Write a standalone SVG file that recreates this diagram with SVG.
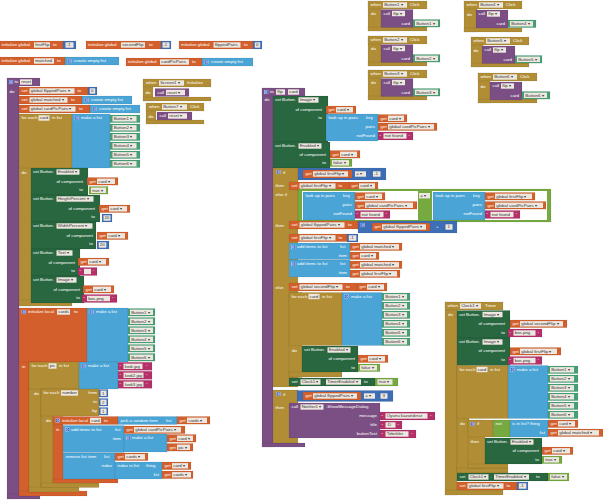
<svg xmlns="http://www.w3.org/2000/svg" xmlns:xlink="http://www.w3.org/1999/xlink" width="603" height="500" viewBox="0 0 603 500">
<style>
text{font-family:"Liberation Sans",Arial,sans-serif;font-size:4.4px;fill:#fff}
text.k{fill:#333}
text.e{text-anchor:end}
rect{stroke:#000;stroke-opacity:.18;stroke-width:.35}
rect.f{fill:#ede7e0;stroke:none}
.o{fill:#d3602c}.p{fill:#7b4f83}.g{fill:#b18e35}.d{fill:#28673f}.t{fill:#46a074}.b{fill:#4aa5d6}.n{fill:#3e6fb6}.l{fill:#76aa40}.m{fill:#b52f69}
rect.w{fill:#fff;stroke:none}
</style>
<defs>
<symbol id="gr" viewBox="0 0 10 10"><rect x="0.5" y="0.5" width="9" height="9" style="fill:#3a5bc7;stroke:#fff;stroke-width:1;stroke-opacity:1"/><circle cx="5" cy="5" r="2" fill="none" stroke="#fff" stroke-width="1.2"/></symbol>
</defs>
<rect x="0" y="0" width="603" height="500" fill="#fff" style="stroke:none"/>
<g id="connectors"/>

<g id="g-firstFlip">
<rect class="o" x="0" y="41" width="63" height="8"/><text x="1.5" y="46.4">initialize global</text>
<rect class="f" x="34" y="42.3" width="16" height="5.4"/><text class="k" x="35.2" y="46.4">firstFlip</text><text x="53" y="46.4">to</text>
<rect class="n" x="63" y="41" width="13" height="8"/><rect class="f" x="65.5" y="42.3" width="8" height="5.4"/><text class="k" x="66.5" y="46.4">-1</text>
</g>
<g id="g-secondFlip">
<rect class="o" x="86" y="41" width="75" height="8"/><text x="88" y="46.4">initialize global</text>
<rect class="f" x="121" y="42.3" width="24" height="5.4"/><text class="k" x="122.2" y="46.4">secondFlip</text><text x="149" y="46.4">to</text>
<rect class="n" x="161" y="41" width="10" height="8"/><rect class="f" x="162.5" y="42.3" width="7" height="5.4"/><text class="k" x="163.2" y="46.4">-1</text>
</g>
<g id="g-flippedPairs">
<rect class="o" x="179" y="41" width="74" height="8"/><text x="181" y="46.4">initialize global</text>
<rect class="f" x="213.5" y="42.3" width="27" height="5.4"/><text class="k" x="214.7" y="46.4">flippedPairs</text><text x="244" y="46.4">to</text>
<rect class="n" x="253" y="41" width="9" height="8"/><rect class="f" x="254.8" y="42.3" width="5.4" height="5.4"/><text class="k" x="256" y="46.4">0</text>
</g>
<g id="g-matched">
<rect class="o" x="0" y="57" width="65" height="8"/><text x="1.5" y="62.4">initialize global</text>
<rect class="f" x="34" y="58.3" width="20" height="5.4"/><text class="k" x="35.2" y="62.4">matched</text><text x="57" y="62.4">to</text>
<rect class="b" x="65" y="57" width="54" height="8"/><use href="#gr" x="67.5" y="58.8" width="4.4" height="4.4"/><text x="74" y="62.4">create empty list</text>
</g>
<g id="g-cardPicPairs">
<rect class="o" x="126" y="58" width="76" height="8"/><text x="128" y="63.4">initialize global</text>
<rect class="f" x="160" y="59.3" width="29" height="5.4"/><text class="k" x="161.2" y="63.4">cardPicPairs</text><text x="192" y="63.4">to</text>
<rect class="b" x="202" y="58" width="51" height="8"/><use href="#gr" x="204.5" y="59.8" width="4.4" height="4.4"/><text x="211" y="63.4">create empty list</text>
</g>

<g id="proc-reset">
<rect class="p" x="7" y="78" width="12" height="421"/><rect class="p" x="7" y="78" width="33" height="8"/><rect class="p" x="7" y="494" width="33" height="5"/>
<use href="#gr" x="8.8" y="79.8" width="4.4" height="4.4"/><text x="14.5" y="83.4">to</text>
<rect class="f" x="20" y="79.3" width="12" height="5.4"/><text class="k" x="21.2" y="83.4">reset</text>
<text x="9.5" y="92.5">do</text>
<rect class="o" x="19" y="87" width="69" height="8"/><text x="21.5" y="92.4">set</text>
<rect class="f" x="29.5" y="88.3" width="45" height="5.4"/><text class="k" x="30.7" y="92.4">global flippedPairs ▾</text><text x="77.5" y="92.4">to</text>
<rect class="n" x="88" y="87" width="9" height="8"/><rect class="f" x="89.8" y="88.3" width="5.4" height="5.4"/><text class="k" x="91" y="92.4">0</text>
<rect class="o" x="19" y="96" width="63" height="8"/><text x="21.5" y="101.4">set</text>
<rect class="f" x="29.5" y="97.3" width="38" height="5.4"/><text class="k" x="30.7" y="101.4">global matched ▾</text><text x="71" y="101.4">to</text>
<rect class="b" x="82" y="96" width="50" height="8"/><use href="#gr" x="84.5" y="97.8" width="4.4" height="4.4"/><text x="91" y="101.4">create empty list</text>
<rect class="o" x="19" y="105" width="71" height="8"/><text x="21.5" y="110.4">set</text>
<rect class="f" x="29.5" y="106.3" width="46" height="5.4"/><text class="k" x="30.7" y="110.4">global cardPicPairs ▾</text><text x="79" y="110.4">to</text>
<rect class="b" x="90" y="105" width="50" height="8"/><use href="#gr" x="92.5" y="106.8" width="4.4" height="4.4"/><text x="99" y="110.4">create empty list</text>
<!-- for each card -->
<rect class="g" x="19" y="114" width="12" height="192"/><rect class="g" x="19" y="114" width="53" height="54"/><rect class="g" x="19" y="300" width="53" height="6"/>
<text x="21.5" y="119.4">for each</text><rect class="f" x="38.5" y="115.3" width="11" height="5.4"/><text class="k" x="39.7" y="119.4">card</text><text x="52" y="119.4">in list</text>
<rect class="b" x="72" y="114" width="38" height="54"/><use href="#gr" x="74.5" y="115.8" width="4.4" height="4.4"/><text x="81" y="119.4">make a list</text>
<rect class="t" x="110" y="115" width="30" height="7.6"/><rect class="f" x="112.5" y="116.1" width="24" height="5.4"/><text class="k" x="113.7" y="120.2">Button1 ▾</text>
<rect class="t" x="110" y="124" width="30" height="7.6"/><rect class="f" x="112.5" y="125.1" width="24" height="5.4"/><text class="k" x="113.7" y="129.2">Button2 ▾</text>
<rect class="t" x="110" y="133" width="30" height="7.6"/><rect class="f" x="112.5" y="134.1" width="24" height="5.4"/><text class="k" x="113.7" y="138.2">Button3 ▾</text>
<rect class="t" x="110" y="142" width="30" height="7.6"/><rect class="f" x="112.5" y="143.1" width="24" height="5.4"/><text class="k" x="113.7" y="147.2">Button4 ▾</text>
<rect class="t" x="110" y="151" width="30" height="7.6"/><rect class="f" x="112.5" y="152.1" width="24" height="5.4"/><text class="k" x="113.7" y="156.2">Button5 ▾</text>
<rect class="t" x="110" y="160" width="30" height="7.6"/><rect class="f" x="112.5" y="161.1" width="24" height="5.4"/><text class="k" x="113.7" y="165.2">Button6 ▾</text>
<text x="21.5" y="173.5">do</text>
<!-- Enabled -->
<rect class="d" x="31" y="168" width="57" height="27"/><text x="33" y="173.4">set Button.</text>
<rect class="f" x="56.5" y="169.3" width="23" height="5.4"/><text class="k" x="57.7" y="173.4">Enabled ▾</text>
<text class="e" x="83" y="182.6">of component</text><text class="e" x="83" y="191.4">to</text>
<rect class="o" x="87" y="177.5" width="31" height="7.6"/><text x="89.5" y="182.7">get</text><rect class="f" x="97" y="178.6" width="18" height="5.4"/><text class="k" x="98.2" y="182.7">card ▾</text>
<rect class="l" x="89" y="186.5" width="19" height="7.6"/><rect class="f" x="91" y="187.6" width="15" height="5.4"/><text class="k" x="92.2" y="191.7">true ▾</text>
<!-- HeightPercent -->
<rect class="d" x="31" y="195" width="69" height="27"/><text x="33" y="200.4">set Button.</text>
<rect class="f" x="56.5" y="196.3" width="37" height="5.4"/><text class="k" x="57.7" y="200.4">HeightPercent ▾</text>
<text class="e" x="95" y="209.6">of component</text><text class="e" x="95" y="218.4">to</text>
<rect class="o" x="99" y="205" width="31" height="7.6"/><text x="101.5" y="210.2">get</text><rect class="f" x="109" y="206.1" width="18" height="5.4"/><text class="k" x="110.2" y="210.2">card ▾</text>
<rect class="n" x="102" y="214" width="10" height="8"/><rect class="f" x="103.5" y="215.3" width="7" height="5.4"/><text class="k" x="104.4" y="219.4">20</text>
<!-- WidthPercent -->
<rect class="d" x="31" y="222" width="65" height="27"/><text x="33" y="227.4">set Button.</text>
<rect class="f" x="56.5" y="223.3" width="36" height="5.4"/><text class="k" x="57.7" y="227.4">WidthPercent ▾</text>
<text class="e" x="93" y="236.6">of component</text><text class="e" x="93" y="245.4">to</text>
<rect class="o" x="97" y="232" width="31" height="7.6"/><text x="99.5" y="237.2">get</text><rect class="f" x="107" y="233.1" width="18" height="5.4"/><text class="k" x="108.2" y="237.2">card ▾</text>
<rect class="n" x="97" y="241" width="12" height="8"/><rect class="f" x="98.8" y="242.3" width="7.5" height="5.4"/><text class="k" x="99.8" y="246.4">20</text>
<!-- Text -->
<rect class="d" x="31" y="249" width="49" height="27"/><text x="33" y="254.4">set Button.</text>
<rect class="f" x="56.5" y="250.3" width="16" height="5.4"/><text class="k" x="57.7" y="254.4">Text ▾</text>
<text class="e" x="75" y="263.6">of component</text><text class="e" x="75" y="272.4">to</text>
<rect class="o" x="78" y="258" width="31" height="7.6"/><text x="80.5" y="263.2">get</text><rect class="f" x="88" y="259.1" width="18" height="5.4"/><text class="k" x="89.2" y="263.2">card ▾</text>
<rect class="m" x="78" y="267.5" width="19" height="8"/><text x="79.5" y="273">“</text><rect class="f" x="84" y="268.8" width="7" height="5.4"/><text x="92.5" y="273">”</text>
<!-- Image -->
<rect class="d" x="31" y="276" width="53" height="27"/><text x="33" y="281.4">set Button.</text>
<rect class="f" x="56.5" y="277.3" width="20" height="5.4"/><text class="k" x="57.7" y="281.4">Image ▾</text>
<text class="e" x="80" y="290.6">of component</text><text class="e" x="80" y="299.4">to</text>
<rect class="o" x="83" y="285.5" width="31" height="7.6"/><text x="85.5" y="290.7">get</text><rect class="f" x="93" y="286.6" width="18" height="5.4"/><text class="k" x="94.2" y="290.7">card ▾</text>
<rect class="m" x="82" y="294.5" width="35" height="8"/><text x="83.5" y="300">“</text><rect class="f" x="87" y="295.8" width="23" height="5.4"/><text class="k" x="88.2" y="299.9">bos.png</text><text x="112" y="300">”</text>
<!-- initialize local cards -->
<rect class="o" x="19" y="308" width="10" height="188"/><rect class="o" x="19" y="308" width="68" height="54"/><rect class="o" x="19" y="491" width="68" height="5"/>
<use href="#gr" x="21.5" y="309.8" width="4.4" height="4.4"/><text x="28" y="313.4">initialize local</text>
<rect class="f" x="57" y="309.3" width="13" height="5.4"/><text class="k" x="58.2" y="313.4">cards</text><text x="74" y="313.4">to</text>
<rect class="b" x="87" y="308" width="41" height="54"/><use href="#gr" x="89.5" y="309.8" width="4.4" height="4.4"/><text x="96" y="313.4">make a list</text>
<rect class="t" x="128" y="308.5" width="27" height="7.6"/><rect class="f" x="130" y="309.6" width="23" height="5.4"/><text class="k" x="131.2" y="313.7">Button1 ▾</text>
<rect class="t" x="128" y="317.5" width="27" height="7.6"/><rect class="f" x="130" y="318.6" width="23" height="5.4"/><text class="k" x="131.2" y="322.7">Button2 ▾</text>
<rect class="t" x="128" y="326.5" width="27" height="7.6"/><rect class="f" x="130" y="327.6" width="23" height="5.4"/><text class="k" x="131.2" y="331.7">Button3 ▾</text>
<rect class="t" x="128" y="335.5" width="27" height="7.6"/><rect class="f" x="130" y="336.6" width="23" height="5.4"/><text class="k" x="131.2" y="340.7">Button4 ▾</text>
<rect class="t" x="128" y="344.5" width="27" height="7.6"/><rect class="f" x="130" y="345.6" width="23" height="5.4"/><text class="k" x="131.2" y="349.7">Button5 ▾</text>
<rect class="t" x="128" y="353.5" width="27" height="7.6"/><rect class="f" x="130" y="354.6" width="23" height="5.4"/><text class="k" x="131.2" y="358.7">Button6 ▾</text>
<text x="22" y="367.5">in</text>
<!-- for each pic -->
<rect class="g" x="29" y="362" width="12" height="130"/><rect class="g" x="29" y="362" width="50" height="27"/><rect class="g" x="29" y="487" width="50" height="5"/>
<text x="31.5" y="367.4">for each</text><rect class="f" x="48.5" y="363.3" width="8" height="5.4"/><text class="k" x="49.7" y="367.4">pic</text><text x="59" y="367.4">in list</text>
<rect class="b" x="79" y="362" width="39" height="27"/><use href="#gr" x="81.5" y="363.8" width="4.4" height="4.4"/><text x="88" y="367.4">make a list</text>
<rect class="m" x="118" y="362.3" width="34" height="8"/><text x="119.5" y="367.8">“</text><rect class="f" x="123.5" y="363.6" width="19" height="5.4"/><text class="k" x="124.7" y="367.7">kedi.jpg</text><text x="146" y="367.8">”</text>
<rect class="m" x="118" y="371.3" width="34" height="8"/><text x="119.5" y="376.8">“</text><rect class="f" x="123.5" y="372.6" width="20" height="5.4"/><text class="k" x="124.7" y="376.7">kedi2.jpg</text><text x="146" y="376.8">”</text>
<rect class="m" x="118" y="380.3" width="34" height="8"/><text x="119.5" y="385.8">“</text><rect class="f" x="123.5" y="381.6" width="20" height="5.4"/><text class="k" x="124.7" y="385.7">kedi3.jpg</text><text x="146" y="385.8">”</text>
<text x="34" y="394.5">do</text>
<!-- for each number -->
<rect class="g" x="41" y="389" width="12" height="98"/><rect class="g" x="41" y="389" width="58" height="27"/><rect class="g" x="41" y="483" width="58" height="4.5"/>
<text x="43.5" y="394.4">for each</text><rect class="f" x="61" y="390.3" width="17" height="5.4"/><text class="k" x="62.2" y="394.4">number</text>
<text class="e" x="97" y="394.4">from</text><text class="e" x="97" y="403.4">to</text><text class="e" x="97" y="412.4">by</text>
<rect class="n" x="99" y="389.5" width="9" height="7.6"/><rect class="f" x="100.5" y="390.6" width="6" height="5.4"/><text class="k" x="102" y="394.7">1</text>
<rect class="n" x="99" y="398.5" width="9" height="7.6"/><rect class="f" x="100.5" y="399.6" width="6" height="5.4"/><text class="k" x="102" y="403.7">2</text>
<rect class="n" x="99" y="407.5" width="9" height="7.6"/><rect class="f" x="100.5" y="408.6" width="6" height="5.4"/><text class="k" x="102" y="412.7">1</text>
<text x="46" y="421.5">do</text>
<!-- initialize local card -->
<rect class="o" x="53" y="416.5" width="10" height="66"/><rect class="o" x="53" y="416.5" width="65" height="8"/><rect class="o" x="53" y="479" width="65" height="4"/>
<use href="#gr" x="55.5" y="418.3" width="4.4" height="4.4"/><text x="62" y="421.9">initialize local</text>
<rect class="f" x="90" y="417.8" width="11" height="5.4"/><text class="k" x="91.2" y="421.9">card</text><text x="104" y="421.9">to</text>
<rect class="b" x="118" y="416.5" width="59" height="8"/><text x="120.5" y="421.9">pick a random item</text><text x="166" y="421.9">list</text>
<rect class="o" x="177" y="416.5" width="33" height="7.6"/><text x="179.5" y="421.7">get</text><rect class="f" x="187" y="417.6" width="20" height="5.4"/><text class="k" x="188.2" y="421.7">cards ▾</text>
<text x="56" y="430.5">in</text>
<rect class="b" x="63" y="425.5" width="61" height="27"/><use href="#gr" x="65" y="427.3" width="4.4" height="4.4"/><text x="71" y="431">add items to list</text><text x="115" y="431">list</text><text class="e" x="121" y="440">item</text>
<rect class="o" x="124" y="426" width="61" height="7.6"/><text x="126.5" y="431.2">get</text><rect class="f" x="134" y="427.1" width="47" height="5.4"/><text class="k" x="135.2" y="431.2">global cardPicPairs ▾</text>
<rect class="b" x="124" y="434" width="43" height="18"/><use href="#gr" x="126" y="435.8" width="4.4" height="4.4"/><text x="132" y="439.4">make a list</text>
<rect class="o" x="167" y="434.5" width="29" height="7.6"/><text x="169.5" y="439.7">get</text><rect class="f" x="177" y="435.6" width="16" height="5.4"/><text class="k" x="178.2" y="439.7">card ▾</text>
<rect class="o" x="167" y="443.5" width="26" height="7.6"/><text x="169.5" y="448.7">get</text><rect class="f" x="177" y="444.6" width="13" height="5.4"/><text class="k" x="178.2" y="448.7">pic ▾</text>
<rect class="b" x="63" y="453" width="52" height="26"/><text x="65.5" y="458.4">remove list item</text><text x="104" y="458.4">list</text><text class="e" x="112" y="467.4">index</text>
<rect class="o" x="115" y="453" width="33" height="7.6"/><text x="117.5" y="458.2">get</text><rect class="f" x="125" y="454.1" width="20" height="5.4"/><text class="k" x="126.2" y="458.2">cards ▾</text>
<rect class="b" x="115" y="462" width="47" height="17"/><text x="117.5" y="467.4">index in list</text><text x="146" y="467.4">thing</text><text class="e" x="159" y="476.4">list</text>
<rect class="o" x="162" y="462" width="29" height="7.6"/><text x="164.5" y="467.2">get</text><rect class="f" x="172" y="463.1" width="16" height="5.4"/><text class="k" x="173.2" y="467.2">card ▾</text>
<rect class="o" x="162" y="471" width="31" height="7.6"/><text x="164.5" y="476.2">get</text><rect class="f" x="172" y="472.1" width="19" height="5.4"/><text class="k" x="173.2" y="476.2">cards ▾</text>
</g>

<g id="ev-screen1">
<rect class="g" x="143" y="79" width="10" height="22"/><rect class="g" x="143" y="79" width="68" height="8"/><rect class="g" x="143" y="97" width="68" height="4"/>
<text x="146" y="84.4">when</text><rect class="f" x="159" y="80.3" width="25" height="5.4"/><text class="k" x="160.2" y="84.4">Screen1 ▾</text><text x="187" y="84.4">Initialize</text>
<text x="145.5" y="94">do</text>
<rect class="p" x="155" y="88.5" width="34" height="8"/><text x="157.5" y="93.9">call</text><rect class="f" x="166" y="89.8" width="19" height="5.4"/><text class="k" x="167.2" y="93.9">reset ▾</text>
</g>
<g id="ev-button7">
<rect class="g" x="146" y="103" width="10" height="21"/><rect class="g" x="146" y="103" width="58" height="8"/><rect class="g" x="146" y="120" width="58" height="4"/>
<text x="149" y="108.4">when</text><rect class="f" x="162" y="104.3" width="25" height="5.4"/><text class="k" x="163.2" y="108.4">Button7 ▾</text><text x="190" y="108.4">Click</text>
<text x="148.5" y="118">do</text>
<rect class="p" x="157" y="112" width="35" height="8"/><text x="159.5" y="117.4">call</text><rect class="f" x="168" y="113.3" width="19" height="5.4"/><text class="k" x="169.2" y="117.4">reset ▾</text>
</g>

<g id="proc-flip">
<rect class="p" x="262" y="88" width="11" height="359"/><rect class="p" x="262" y="88" width="43" height="8"/><rect class="p" x="262" y="443" width="43" height="4"/>
<use href="#gr" x="264" y="89.8" width="4.4" height="4.4"/><text x="270" y="93.4">to</text>
<rect class="f" x="276" y="89.3" width="9" height="5.4"/><text class="k" x="277.2" y="93.4">flip</text>
<rect class="f" x="288" y="89.3" width="11" height="5.4"/><text class="k" x="289.2" y="93.4">card</text>
<text x="264.5" y="100.5">do</text>
<!-- set Image -->
<rect class="d" x="273" y="96" width="55" height="46"/><text x="275" y="101.4">set Button.</text>
<rect class="f" x="298.5" y="97.3" width="20" height="5.4"/><text class="k" x="299.7" y="101.4">Image ▾</text>
<text class="e" x="322" y="110.6">of component</text><text class="e" x="322" y="119.4">to</text>
<rect class="o" x="326" y="106" width="30" height="7.6"/><text x="328.5" y="111.2">get</text><rect class="f" x="336" y="107.1" width="17" height="5.4"/><text class="k" x="337.2" y="111.2">card ▾</text>
<rect class="b" x="326" y="114" width="52" height="27"/><text x="328.5" y="119.4">look up in pairs</text><text x="366" y="119.4">key</text>
<text class="e" x="375" y="128.4">pairs</text><text class="e" x="375" y="137.4">notFound</text>
<rect class="o" x="378" y="114.5" width="29" height="7.6"/><text x="380.5" y="119.7">get</text><rect class="f" x="388" y="115.6" width="16" height="5.4"/><text class="k" x="389.2" y="119.7">card ▾</text>
<rect class="o" x="378" y="123" width="59" height="7.6"/><text x="380.5" y="128.2">get</text><rect class="f" x="388" y="124.1" width="46" height="5.4"/><text class="k" x="389.2" y="128.2">global cardPicPairs ▾</text>
<rect class="m" x="378" y="132" width="35" height="8"/><text x="379.5" y="137.5">“</text><rect class="f" x="383.5" y="133.3" width="23" height="5.4"/><text class="k" x="384.7" y="137.4">not found</text><text x="408.5" y="137.5">”</text>
<!-- set Enabled -->
<rect class="d" x="273" y="142" width="57" height="26"/><text x="275" y="147.4">set Button.</text>
<rect class="f" x="298.5" y="143.3" width="23" height="5.4"/><text class="k" x="299.7" y="147.4">Enabled ▾</text>
<text class="e" x="326" y="155.6">of component</text><text class="e" x="326" y="164.4">to</text>
<rect class="o" x="330" y="150.5" width="30" height="7.6"/><text x="332.5" y="155.7">get</text><rect class="f" x="340" y="151.6" width="17" height="5.4"/><text class="k" x="341.2" y="155.7">card ▾</text>
<rect class="l" x="330" y="159" width="22" height="7.6"/><rect class="f" x="332" y="160.1" width="17" height="5.4"/><text class="k" x="333.2" y="164.2">false ▾</text>
<!-- if / else if / else -->
<rect class="g" x="273" y="168" width="25" height="219"/>
<use href="#gr" x="276.5" y="169.8" width="4.4" height="4.4"/><text x="283" y="174.4">if</text>
<rect class="n" x="298" y="168" width="88" height="12"/>
<rect class="o" x="303" y="170" width="49" height="8"/><text x="305.5" y="175.4">get</text><rect class="f" x="313" y="171.3" width="35" height="5.4"/><text class="k" x="314.2" y="175.4">global firstFlip ▾</text>
<rect class="f" x="355" y="171.3" width="11" height="5.4"/><text class="k" x="356.2" y="175.4">= ▾</text>
<rect class="n" x="371" y="170" width="12" height="8"/><rect class="f" x="373" y="171.3" width="7.5" height="5.4"/><text class="k" x="374" y="175.4">-1</text>
<text x="275.5" y="186.5">then</text>
<rect class="o" x="289" y="182" width="60" height="8"/><text x="291.5" y="187.4">set</text><rect class="f" x="299.5" y="183.3" width="36" height="5.4"/><text class="k" x="300.7" y="187.4">global firstFlip ▾</text><text x="338.5" y="187.4">to</text>
<rect class="o" x="349" y="182" width="29" height="8"/><text x="351.5" y="187.4">get</text><rect class="f" x="359" y="183.3" width="16" height="5.4"/><text class="k" x="360.2" y="187.4">card ▾</text>
<text x="275.5" y="196">else if</text>
<rect class="l" x="298" y="189" width="253" height="33"/>
<rect class="w" x="302" y="191" width="116" height="29"/><rect class="w" x="432" y="191" width="115" height="29"/>
<rect class="b" x="303" y="192" width="52" height="28"/><text x="305.5" y="197.4">look up in pairs</text><text x="343" y="197.4">key</text>
<text class="e" x="352" y="206.4">pairs</text><text class="e" x="352" y="215.4">notFound</text>
<rect class="o" x="355" y="192.5" width="30" height="7.6"/><text x="357.5" y="197.7">get</text><rect class="f" x="365" y="193.6" width="17" height="5.4"/><text class="k" x="366.2" y="197.7">card ▾</text>
<rect class="o" x="355" y="201.5" width="62" height="7.6"/><text x="357.5" y="206.7">get</text><rect class="f" x="365" y="202.6" width="48" height="5.4"/><text class="k" x="366.2" y="206.7">global cardPicPairs ▾</text>
<rect class="m" x="355" y="210.5" width="35" height="8"/><text x="356.5" y="216">“</text><rect class="f" x="360.5" y="211.8" width="23" height="5.4"/><text class="k" x="361.7" y="215.9">not found</text><text x="385.5" y="216">”</text>
<rect class="f" x="419" y="193" width="11" height="5.4"/><text class="k" x="420.2" y="197.1">= ▾</text>
<rect class="b" x="433" y="192" width="52" height="28"/><text x="435.5" y="197.4">look up in pairs</text><text x="473" y="197.4">key</text>
<text class="e" x="482" y="206.4">pairs</text><text class="e" x="482" y="215.4">notFound</text>
<rect class="o" x="485" y="192.5" width="50" height="7.6"/><text x="487.5" y="197.7">get</text><rect class="f" x="495" y="193.6" width="37" height="5.4"/><text class="k" x="496.2" y="197.7">global firstFlip ▾</text>
<rect class="o" x="485" y="201.5" width="61" height="7.6"/><text x="487.5" y="206.7">get</text><rect class="f" x="495" y="202.6" width="48" height="5.4"/><text class="k" x="496.2" y="206.7">global cardPicPairs ▾</text>
<rect class="m" x="485" y="210.5" width="35" height="8"/><text x="486.5" y="216">“</text><rect class="f" x="490.5" y="211.8" width="23" height="5.4"/><text class="k" x="491.7" y="215.9">not found</text><text x="515.5" y="216">”</text>
<text x="275.5" y="226.5">then</text>
<rect class="o" x="289" y="221" width="69" height="8"/><text x="291.5" y="226.4">set</text><rect class="f" x="299.5" y="222.3" width="45" height="5.4"/><text class="k" x="300.7" y="226.4">global flippedPairs ▾</text><text x="348" y="226.4">to</text>
<rect class="n" x="358" y="221" width="99" height="12"/><use href="#gr" x="360.5" y="222.8" width="4.4" height="4.4"/>
<rect class="o" x="372" y="223" width="58" height="8"/><text x="374.5" y="228.4">get</text><rect class="f" x="382" y="224.3" width="44" height="5.4"/><text class="k" x="383.2" y="228.4">global flippedPairs ▾</text>
<text x="436" y="228.4">+</text>
<rect class="n" x="444" y="223" width="10" height="8"/><rect class="f" x="445.5" y="224.3" width="7" height="5.4"/><text class="k" x="447.5" y="228.4">1</text>
<rect class="o" x="289" y="234" width="58" height="7.6"/><text x="291.5" y="239.2">set</text><rect class="f" x="299.5" y="235.1" width="36" height="5.4"/><text class="k" x="300.7" y="239.2">global firstFlip ▾</text><text x="338.5" y="239.2">to</text>
<rect class="n" x="347" y="234" width="11" height="8"/><rect class="f" x="348.8" y="235.3" width="7.5" height="5.4"/><text class="k" x="349.8" y="239.4">-1</text>
<rect class="b" x="289" y="243" width="61" height="16.5"/><use href="#gr" x="291" y="244.8" width="4.4" height="4.4"/><text x="297" y="248.4">add items to list</text><text x="340" y="248.4">list</text><text class="e" x="347" y="257.2">item</text>
<rect class="o" x="350" y="243" width="52" height="7.6"/><text x="352.5" y="248.2">get</text><rect class="f" x="360" y="244.1" width="39" height="5.4"/><text class="k" x="361.2" y="248.2">global matched ▾</text>
<rect class="o" x="350" y="252" width="29" height="7.6"/><text x="352.5" y="257.2">get</text><rect class="f" x="360" y="253.1" width="16" height="5.4"/><text class="k" x="361.2" y="257.2">card ▾</text>
<rect class="b" x="289" y="260" width="61" height="17"/><use href="#gr" x="291" y="261.8" width="4.4" height="4.4"/><text x="297" y="265.4">add items to list</text><text x="340" y="265.4">list</text><text class="e" x="347" y="274.2">item</text>
<rect class="o" x="350" y="261" width="52" height="7.6"/><text x="352.5" y="266.2">get</text><rect class="f" x="360" y="262.1" width="39" height="5.4"/><text class="k" x="361.2" y="266.2">global matched ▾</text>
<rect class="o" x="350" y="270" width="50" height="7.6"/><text x="352.5" y="275.2">get</text><rect class="f" x="360" y="271.1" width="37" height="5.4"/><text class="k" x="361.2" y="275.2">global firstFlip ▾</text>
<text x="275.5" y="288.5">else</text>
<rect class="o" x="289" y="283" width="68" height="8"/><text x="291.5" y="288.4">set</text><rect class="f" x="299.5" y="284.3" width="43" height="5.4"/><text class="k" x="300.7" y="288.4">global secondFlip ▾</text><text x="346" y="288.4">to</text>
<rect class="o" x="357" y="283" width="30" height="8"/><text x="359.5" y="288.4">get</text><rect class="f" x="367" y="284.3" width="17" height="5.4"/><text class="k" x="368.2" y="288.4">card ▾</text>
<rect class="g" x="289" y="292.5" width="13" height="85"/><rect class="g" x="289" y="292.5" width="53" height="53"/><rect class="g" x="289" y="372" width="53" height="5"/>
<text x="291.5" y="298">for each</text><rect class="f" x="308.5" y="293.8" width="11" height="5.4"/><text class="k" x="309.7" y="297.9">card</text><text x="322" y="298">in list</text>
<rect class="b" x="342" y="292.5" width="40" height="53"/><use href="#gr" x="344.5" y="294.3" width="4.4" height="4.4"/><text x="351" y="298">make a list</text>
<rect class="t" x="382" y="293" width="28" height="7.6"/><rect class="f" x="384" y="294.1" width="23" height="5.4"/><text class="k" x="385.2" y="298.2">Button1 ▾</text>
<rect class="t" x="382" y="302" width="28" height="7.6"/><rect class="f" x="384" y="303.1" width="23" height="5.4"/><text class="k" x="385.2" y="307.2">Button2 ▾</text>
<rect class="t" x="382" y="311" width="28" height="7.6"/><rect class="f" x="384" y="312.1" width="23" height="5.4"/><text class="k" x="385.2" y="316.2">Button3 ▾</text>
<rect class="t" x="382" y="320" width="28" height="7.6"/><rect class="f" x="384" y="321.1" width="23" height="5.4"/><text class="k" x="385.2" y="325.2">Button4 ▾</text>
<rect class="t" x="382" y="329" width="28" height="7.6"/><rect class="f" x="384" y="330.1" width="23" height="5.4"/><text class="k" x="385.2" y="334.2">Button5 ▾</text>
<rect class="t" x="382" y="338" width="28" height="7.6"/><rect class="f" x="384" y="339.1" width="23" height="5.4"/><text class="k" x="385.2" y="343.2">Button6 ▾</text>
<text x="292" y="351.5">do</text>
<rect class="d" x="302" y="346" width="56" height="26"/><text x="304" y="351.4">set Button.</text>
<rect class="f" x="327.5" y="347.3" width="23" height="5.4"/><text class="k" x="328.7" y="351.4">Enabled ▾</text>
<text class="e" x="355" y="360">of component</text><text class="e" x="355" y="368.8">to</text>
<rect class="o" x="358" y="355" width="30" height="7.6"/><text x="360.5" y="360.2">get</text><rect class="f" x="368" y="356.1" width="17" height="5.4"/><text class="k" x="369.2" y="360.2">card ▾</text>
<rect class="l" x="358" y="364" width="22" height="7.6"/><rect class="f" x="360" y="365.1" width="17" height="5.4"/><text class="k" x="361.2" y="369.2">false ▾</text>
<rect class="d" x="289" y="378" width="86" height="8"/><text x="291.5" y="383.4">set</text>
<rect class="f" x="300.5" y="379.3" width="20" height="5.4"/><text class="k" x="301.7" y="383.4">Clock1 ▾</text><text x="322.5" y="383.4">.</text>
<rect class="f" x="326" y="379.3" width="35" height="5.4"/><text class="k" x="327.2" y="383.4">TimerEnabled ▾</text><text x="364" y="383.4">to</text>
<rect class="l" x="375" y="378" width="23" height="8"/><rect class="f" x="377.5" y="379.3" width="15" height="5.4"/><text class="k" x="378.7" y="383.4">true ▾</text>
<!-- second if -->
<rect class="g" x="273" y="390" width="25" height="53"/>
<use href="#gr" x="276.5" y="391.8" width="4.4" height="4.4"/><text x="283" y="396.4">if</text>
<rect class="n" x="297" y="390.5" width="96" height="11"/>
<rect class="o" x="303" y="392" width="58" height="8"/><text x="305.5" y="397.4">get</text><rect class="f" x="313" y="393.3" width="44" height="5.4"/><text class="k" x="314.2" y="397.4">global flippedPairs ▾</text>
<rect class="f" x="364" y="393.3" width="11" height="5.4"/><text class="k" x="365.2" y="397.4">= ▾</text>
<rect class="n" x="379" y="392" width="10" height="8"/><rect class="f" x="380.5" y="393.3" width="7" height="5.4"/><text class="k" x="382.5" y="397.4">3</text>
<text x="275.5" y="409">then</text>
<rect class="p" x="289" y="403" width="91" height="35"/><text x="291.5" y="408.4">call</text>
<rect class="f" x="300.5" y="404.3" width="23" height="5.4"/><text class="k" x="301.7" y="408.4">Notifier1 ▾</text><text x="326" y="408.4">.ShowMessageDialog</text>
<text class="e" x="377" y="417.4">message</text><text class="e" x="377" y="426.4">title</text><text class="e" x="377" y="435.4">buttonText</text>
<rect class="m" x="380" y="412" width="55" height="8"/><text x="381.5" y="417.5">“</text><rect class="f" x="385.5" y="413.3" width="42" height="5.4"/><text class="k" x="386.7" y="417.4">Oyunu kazandınız</text><text x="430" y="417.5">”</text>
<rect class="m" x="380" y="421" width="22" height="8"/><text x="381.5" y="426.5">“</text><rect class="f" x="385.5" y="422.3" width="10" height="5.4"/><text class="k" x="386.7" y="426.4">:D</text><text x="397.5" y="426.5">”</text>
<rect class="m" x="380" y="430" width="36" height="8"/><text x="381.5" y="435.5">“</text><rect class="f" x="385.5" y="431.3" width="23" height="5.4"/><text class="k" x="386.7" y="435.4">Tebrikler</text><text x="411" y="435.5">”</text>
</g>

<g id="ev-button1">
<rect class="g" x="368" y="1" width="13" height="30"/><rect class="g" x="368" y="1" width="59" height="8"/><rect class="g" x="368" y="27" width="59" height="4"/>
<text x="370.5" y="6.4">when</text><rect class="f" x="383" y="2.3" width="24" height="5.4"/><text class="k" x="384.2" y="6.4">Button1 ▾</text><text x="410" y="6.4">Click</text>
<text x="371" y="15">do</text>
<rect class="p" x="381" y="9.5" width="32" height="18"/><text x="383.5" y="14.9">call</text><rect class="f" x="392" y="10.8" width="13" height="5.4"/><text class="k" x="393.2" y="14.9">flip ▾</text><text class="e" x="410" y="24.5">card</text>
<rect class="t" x="413" y="19.5" width="27" height="7.6"/><rect class="f" x="415" y="20.6" width="23" height="5.4"/><text class="k" x="416.2" y="24.7">Button1 ▾</text>
</g>
<g id="ev-button2">
<rect class="g" x="368" y="36" width="13" height="30"/><rect class="g" x="368" y="36" width="59" height="8"/><rect class="g" x="368" y="62" width="59" height="4"/>
<text x="370.5" y="41.4">when</text><rect class="f" x="383" y="37.3" width="24" height="5.4"/><text class="k" x="384.2" y="41.4">Button2 ▾</text><text x="410" y="41.4">Click</text>
<text x="371" y="50">do</text>
<rect class="p" x="381" y="44.5" width="32" height="18"/><text x="383.5" y="49.9">call</text><rect class="f" x="392" y="45.8" width="13" height="5.4"/><text class="k" x="393.2" y="49.9">flip ▾</text><text class="e" x="410" y="59.5">card</text>
<rect class="t" x="413" y="54.5" width="27" height="7.6"/><rect class="f" x="415" y="55.6" width="23" height="5.4"/><text class="k" x="416.2" y="59.7">Button2 ▾</text>
</g>
<g id="ev-button3">
<rect class="g" x="368" y="70" width="13" height="30"/><rect class="g" x="368" y="70" width="59" height="8"/><rect class="g" x="368" y="96" width="59" height="4"/>
<text x="370.5" y="75.4">when</text><rect class="f" x="383" y="71.3" width="24" height="5.4"/><text class="k" x="384.2" y="75.4">Button3 ▾</text><text x="410" y="75.4">Click</text>
<text x="371" y="84">do</text>
<rect class="p" x="381" y="78.5" width="32" height="18"/><text x="383.5" y="83.9">call</text><rect class="f" x="392" y="79.8" width="13" height="5.4"/><text class="k" x="393.2" y="83.9">flip ▾</text><text class="e" x="410" y="93.5">card</text>
<rect class="t" x="413" y="88.5" width="27" height="7.6"/><rect class="f" x="415" y="89.6" width="23" height="5.4"/><text class="k" x="416.2" y="93.7">Button3 ▾</text>
</g>
<g id="ev-button4">
<rect class="g" x="464" y="1" width="13" height="31"/><rect class="g" x="464" y="1" width="58" height="8"/><rect class="g" x="464" y="28" width="58" height="4"/>
<text x="466.5" y="6.4">when</text><rect class="f" x="479" y="2.3" width="24" height="5.4"/><text class="k" x="480.2" y="6.4">Button4 ▾</text><text x="506" y="6.4">Click</text>
<text x="467" y="15.5">do</text>
<rect class="p" x="476" y="10" width="32" height="18"/><text x="478.5" y="15.4">call</text><rect class="f" x="487" y="11.3" width="13" height="5.4"/><text class="k" x="488.2" y="15.4">flip ▾</text><text class="e" x="505" y="25">card</text>
<rect class="t" x="508" y="20" width="28" height="7.6"/><rect class="f" x="510" y="21.1" width="23" height="5.4"/><text class="k" x="511.2" y="25.2">Button4 ▾</text>
</g>
<g id="ev-button5">
<rect class="g" x="471" y="37" width="12" height="30"/><rect class="g" x="471" y="37" width="58" height="8"/><rect class="g" x="471" y="63" width="58" height="4"/>
<text x="473.5" y="42.4">when</text><rect class="f" x="486" y="38.3" width="24" height="5.4"/><text class="k" x="487.2" y="42.4">Button5 ▾</text><text x="513" y="42.4">Click</text>
<text x="473.5" y="51.5">do</text>
<rect class="p" x="482" y="46" width="33" height="17.5"/><text x="484.5" y="51.4">call</text><rect class="f" x="493" y="47.3" width="13" height="5.4"/><text class="k" x="494.2" y="51.4">flip ▾</text><text class="e" x="512" y="60.6">card</text>
<rect class="t" x="515" y="55.5" width="27" height="7.6"/><rect class="f" x="517" y="56.6" width="23" height="5.4"/><text class="k" x="518.2" y="60.7">Button5 ▾</text>
</g>
<g id="ev-button6">
<rect class="g" x="478" y="73" width="12" height="30"/><rect class="g" x="478" y="73" width="59" height="8"/><rect class="g" x="478" y="99" width="59" height="4"/>
<text x="480.5" y="78.4">when</text><rect class="f" x="493" y="74.3" width="24" height="5.4"/><text class="k" x="494.2" y="78.4">Button6 ▾</text><text x="520" y="78.4">Click</text>
<text x="480.5" y="87.5">do</text>
<rect class="p" x="490" y="82" width="32" height="18"/><text x="492.5" y="87.4">call</text><rect class="f" x="501" y="83.3" width="13" height="5.4"/><text class="k" x="502.2" y="87.4">flip ▾</text><text class="e" x="519" y="96.6">card</text>
<rect class="t" x="522" y="91.5" width="28" height="7.6"/><rect class="f" x="524" y="92.6" width="23" height="5.4"/><text class="k" x="525.2" y="96.7">Button6 ▾</text>
</g>

<g id="ev-clock1">
<rect class="g" x="445" y="302" width="12" height="193"/><rect class="g" x="445" y="302" width="58" height="8"/><rect class="g" x="445" y="490" width="58" height="5"/>
<text x="447.5" y="307.4">when</text><rect class="f" x="460" y="303.3" width="21" height="5.4"/><text class="k" x="461.2" y="307.4">Clock1 ▾</text><text x="485" y="307.4">Timer</text>
<text x="448" y="316">do</text>
<rect class="d" x="457" y="310.5" width="53" height="27.5"/><text x="459" y="316">set Button.</text>
<rect class="f" x="482.5" y="311.8" width="20" height="5.4"/><text class="k" x="483.7" y="315.9">Image ▾</text>
<text class="e" x="505" y="325.4">of component</text><text class="e" x="505" y="334">to</text>
<rect class="o" x="510" y="320" width="57" height="7.6"/><text x="512.5" y="325.2">get</text><rect class="f" x="520" y="321.1" width="43" height="5.4"/><text class="k" x="521.2" y="325.2">global secondFlip ▾</text>
<rect class="m" x="508" y="329" width="34" height="8"/><text x="509.5" y="334.5">“</text><rect class="f" x="513.5" y="330.3" width="22" height="5.4"/><text class="k" x="514.7" y="334.4">bos.png</text><text x="537.5" y="334.5">”</text>
<rect class="d" x="457" y="338" width="53" height="27.5"/><text x="459" y="343.4">set Button.</text>
<rect class="f" x="482.5" y="339.3" width="20" height="5.4"/><text class="k" x="483.7" y="343.4">Image ▾</text>
<text class="e" x="505" y="352.4">of component</text><text class="e" x="505" y="361.4">to</text>
<rect class="o" x="510" y="347.5" width="51" height="7.6"/><text x="512.5" y="352.7">get</text><rect class="f" x="520" y="348.6" width="37" height="5.4"/><text class="k" x="521.2" y="352.7">global firstFlip ▾</text>
<rect class="m" x="508" y="356.5" width="34" height="8"/><text x="509.5" y="362">“</text><rect class="f" x="513.5" y="357.8" width="22" height="5.4"/><text class="k" x="514.7" y="361.9">bos.png</text><text x="537.5" y="362">”</text>
<rect class="g" x="457" y="365.5" width="12" height="108"/><rect class="g" x="457" y="365.5" width="51" height="53"/><rect class="g" x="457" y="468" width="51" height="5"/>
<text x="459.5" y="371">for each</text><rect class="f" x="476.5" y="366.8" width="11" height="5.4"/><text class="k" x="477.7" y="370.9">card</text><text x="490" y="371">in list</text>
<rect class="b" x="508" y="365.5" width="40" height="53"/><use href="#gr" x="510.5" y="367.3" width="4.4" height="4.4"/><text x="517" y="371">make a list</text>
<rect class="t" x="548" y="366" width="30" height="7.6"/><rect class="f" x="550" y="367.1" width="24" height="5.4"/><text class="k" x="551.2" y="371.2">Button1 ▾</text>
<rect class="t" x="548" y="375" width="30" height="7.6"/><rect class="f" x="550" y="376.1" width="24" height="5.4"/><text class="k" x="551.2" y="380.2">Button2 ▾</text>
<rect class="t" x="548" y="384" width="30" height="7.6"/><rect class="f" x="550" y="385.1" width="24" height="5.4"/><text class="k" x="551.2" y="389.2">Button3 ▾</text>
<rect class="t" x="548" y="393" width="30" height="7.6"/><rect class="f" x="550" y="394.1" width="24" height="5.4"/><text class="k" x="551.2" y="398.2">Button4 ▾</text>
<rect class="t" x="548" y="402" width="30" height="7.6"/><rect class="f" x="550" y="403.1" width="24" height="5.4"/><text class="k" x="551.2" y="407.2">Button5 ▾</text>
<rect class="t" x="548" y="411" width="30" height="7.6"/><rect class="f" x="550" y="412.1" width="24" height="5.4"/><text class="k" x="551.2" y="416.2">Button6 ▾</text>
<text x="460" y="424.5">do</text>
<rect class="g" x="468" y="420" width="17" height="48"/><rect class="g" x="468" y="420" width="25" height="17"/><rect class="g" x="468" y="464" width="40" height="4"/>
<use href="#gr" x="470.5" y="421.8" width="4.4" height="4.4"/><text x="477" y="425.4">if</text><text x="470.5" y="443">then</text>
<rect class="l" x="493" y="420" width="17" height="17"/><text x="495.5" y="425.4">not</text>
<rect class="b" x="510" y="420" width="38" height="17"/><text x="512" y="425.4">is in list? thing</text><text class="e" x="545" y="434.4">list</text>
<rect class="o" x="548" y="420" width="30" height="7.6"/><text x="550.5" y="425.2">get</text><rect class="f" x="558" y="421.1" width="17" height="5.4"/><text class="k" x="559.2" y="425.2">card ▾</text>
<rect class="o" x="548" y="429" width="55" height="7.6"/><text x="550.5" y="434.2">get</text><rect class="f" x="558" y="430.1" width="41" height="5.4"/><text class="k" x="559.2" y="434.2">global matched ▾</text>
<rect class="d" x="485" y="438" width="57" height="26"/><text x="487" y="443.4">set Button.</text>
<rect class="f" x="510.5" y="439.3" width="23" height="5.4"/><text class="k" x="511.7" y="443.4">Enabled ▾</text>
<text class="e" x="539" y="452.4">of component</text><text class="e" x="539" y="461.2">to</text>
<rect class="o" x="542" y="447" width="31" height="7.6"/><text x="544.5" y="452.2">get</text><rect class="f" x="552" y="448.1" width="18" height="5.4"/><text class="k" x="553.2" y="452.2">card ▾</text>
<rect class="l" x="542" y="456" width="20" height="7.6"/><rect class="f" x="544" y="457.1" width="15" height="5.4"/><text class="k" x="545.2" y="461.2">true ▾</text>
<rect class="d" x="457" y="473" width="91" height="8"/><text x="459.5" y="478.4">set</text>
<rect class="f" x="468.5" y="474.3" width="20" height="5.4"/><text class="k" x="469.7" y="478.4">Clock1 ▾</text><text x="490.5" y="478.4">.</text>
<rect class="f" x="494" y="474.3" width="35" height="5.4"/><text class="k" x="495.2" y="478.4">TimerEnabled ▾</text><text x="536" y="478.4">to</text>
<rect class="l" x="548" y="473" width="21" height="8"/><rect class="f" x="550" y="474.3" width="17" height="5.4"/><text class="k" x="551.2" y="478.4">false ▾</text>
<rect class="o" x="457" y="482" width="60" height="8"/><text x="459.5" y="487.4">set</text>
<rect class="f" x="467.5" y="483.3" width="36" height="5.4"/><text class="k" x="468.7" y="487.4">global firstFlip ▾</text><text x="506.5" y="487.4">to</text>
<rect class="n" x="517" y="482" width="11" height="8"/><rect class="f" x="518.8" y="483.3" width="7.5" height="5.4"/><text class="k" x="519.8" y="487.4">-1</text>
</g>
</svg>
